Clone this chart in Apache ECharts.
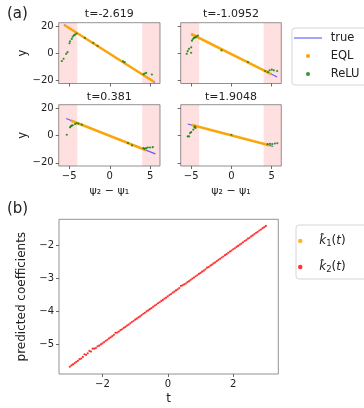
<!DOCTYPE html>
<html>
<head>
<meta charset="utf-8">
<script src="https://cdn.jsdelivr.net/npm/echarts@6/dist/echarts.min.js"></script>
<style>
html, body { margin: 0; padding: 0; background: #fff; }
#main { width: 364px; height: 408px; }
</style>
</head>
<body>
<div id="main"></div>
<script>
// ---- data ----
var panelTitles = ['t=-2.619', 't=-1.0952', 't=0.381', 't=1.9048'];
var psiRange = [-6.3, 6.2];
var yRange = [-22.3, 22.4];
var psiTicks = [-5, 0, 5];
var yTicks = [-20, 0, 20];
var trainEdge = 4;

// true curve (end points)
var trueLines = [
  [[-5.66, 20.9], [5.56, -21.5]],
  [[-5.0, 14.1], [5.68, -17.5]],
  [[-5.38, 12.3], [5.63, -13.5]],
  [[-5.43, 8.3], [5.2, -8.1]]
];
// EQL prediction (dense dots, drawn as a thick stroke)
var eqlLines = [
  [[-5.6, 20.7], [5.5, -21.2]],
  [[-5.0, 14.1], [4.9, -15.2]],
  [[-4.8, 10.9], [4.5, -10.8]],
  [[-4.9, 7.6], [4.7, -7.1]]
];
// ReLU prediction
var reluPts = [
  [[-5.91, -5.8], [-5.7, -4.1], [-5.38, -0.5], [-5.21, 0.7], [-4.97, 7.3], [-4.9, 8.7], [-4.69, 10.5], [-4.57, 12.1], [-4.41, 13.1], [-4.3, 13.6], [-4.1, 14.4], [-3.06, 11.3], [-2.04, 7.6], [-1.5, 5.4], [1.63, -6.1], [1.84, -6.6], [4.17, -15.5], [4.29, -15.0], [4.49, -14.5], [5.2, -15.7]],
  [[-5.55, -0.5], [-5.43, 1.5], [-5.27, 3.2], [-5.0, 0.3], [-5.0, 4.3], [-4.9, 9.2], [-4.78, 10.4], [-4.65, 11.2], [-4.49, 11.6], [-4.37, 12.1], [-4.16, 12.9], [-1.23, 2.0], [2.06, -6.5], [4.2, -13.1], [4.53, -14.0], [4.74, -12.6], [5.02, -12.1], [5.27, -12.6], [5.68, -13.1]],
  [[-5.3, 0.5], [-4.9, 5.9], [-4.8, 6.6], [-4.69, 7.1], [-4.57, 7.4], [-4.28, 8.3], [-4.08, 8.8], [-3.87, 8.6], [-3.46, 7.8], [2.25, -5.6], [2.74, -7.3], [4.16, -9.3], [4.29, -9.8], [4.49, -9.3], [4.7, -8.8], [4.98, -8.8], [5.31, -8.6]],
  [[-5.43, -0.7], [-5.26, -0.7], [-5.14, 1.7], [-5.0, 2.4], [-4.73, 4.2], [-4.6, 5.9], [-4.53, 6.6], [-4.44, 5.4], [0, 0.5], [4.5, -6.4], [4.8, -6.1], [5.08, -6.4], [5.4, -5.9], [5.7, -5.7]]
];

// panel (b)
var tRange = [-3.33, 3.38];
var coefRange = [-5.9, -1.2];
var tTicks = [-2, 0, 2];
var coefTicks = [-5, -4, -3, -2];
var tVals = [-3.00, -2.95, -2.90, -2.85, -2.80, -2.75, -2.70, -2.65, -2.60, -2.55, -2.50, -2.45, -2.40, -2.35, -2.30, -2.25, -2.20, -2.15, -2.10, -2.05,
  -2.00, -1.95, -1.90, -1.85, -1.80, -1.75, -1.70, -1.65, -1.60, -1.55, -1.50, -1.45, -1.40, -1.35, -1.30, -1.25, -1.20, -1.15, -1.10, -1.05,
  -1.00, -0.95, -0.90, -0.85, -0.80, -0.75, -0.70, -0.65, -0.60, -0.55, -0.50, -0.45, -0.40, -0.35, -0.30, -0.25, -0.20, -0.15, -0.10, -0.05,
  0.00, 0.05, 0.10, 0.15, 0.20, 0.25, 0.30, 0.35, 0.40, 0.45, 0.50, 0.55, 0.60, 0.65, 0.70, 0.75, 0.80, 0.85, 0.90, 0.95,
  1.00, 1.05, 1.10, 1.15, 1.20, 1.25, 1.30, 1.35, 1.40, 1.45, 1.50, 1.55, 1.60, 1.65, 1.70, 1.75, 1.80, 1.85, 1.90, 1.95,
  2.00, 2.05, 2.10, 2.15, 2.20, 2.25, 2.30, 2.35, 2.40, 2.45, 2.50, 2.55, 2.60, 2.65, 2.70, 2.75, 2.80, 2.85, 2.90, 2.95, 3.00];
var k2Vals = [-5.68, -5.64, -5.61, -5.57, -5.53, -5.50, -5.45, -5.43, -5.38, -5.30, -5.32, -5.27, -5.20, -5.22, -5.13, -5.13, -5.11, -5.06, -5.04, -5.00,
  -4.97, -4.93, -4.89, -4.86, -4.82, -4.79, -4.75, -4.71, -4.65, -4.64, -4.61, -4.57, -4.54, -4.50, -4.47, -4.43, -4.40, -4.36, -4.32, -4.29,
  -4.25, -4.22, -4.18, -4.15, -4.11, -4.07, -4.04, -4.00, -3.97, -3.93, -3.90, -3.86, -3.82, -3.79, -3.75, -3.72, -3.68, -3.65, -3.61, -3.58,
  -3.54, -3.50, -3.47, -3.43, -3.40, -3.36, -3.33, -3.29, -3.22, -3.21, -3.18, -3.15, -3.11, -3.08, -3.04, -3.00, -2.97, -2.93, -2.90, -2.86,
  -2.83, -2.79, -2.76, -2.72, -2.67, -2.65, -2.61, -2.58, -2.54, -2.51, -2.47, -2.43, -2.40, -2.36, -2.33, -2.29, -2.26, -2.22, -2.18, -2.15,
  -2.11, -2.08, -2.04, -2.01, -1.97, -1.94, -1.90, -1.86, -1.83, -1.79, -1.76, -1.72, -1.69, -1.65, -1.61, -1.58, -1.54, -1.51, -1.47, -1.44, -1.40];
var k1Vals = [];

// ---- chart ----
var chart = echarts.init(document.getElementById('main'));
var FONT = 'DejaVu Sans';
var TXT = '#222';
var minusFmt = function (v) { return v < 0 ? '\u2212' + Math.abs(v) : String(v); };

var gridPos = [
  { left: 58.7, top: 22.7, width: 101.3, height: 60.8 },
  { left: 180.7, top: 22.7, width: 100.6, height: 60.8 },
  { left: 58.7, top: 104.7, width: 101.3, height: 61.3 },
  { left: 180.7, top: 104.7, width: 100.6, height: 61.3 },
  { left: 59, top: 219.3, width: 219.3, height: 154.7 }
];
var titleY = [14, 14, 97, 97];

var grids = [], xAxes = [], yAxes = [], series = [], graphics = [];

function axisCommon(ticks, showLabel) {
  return {
    axisLine: { show: false, onZero: false },
    splitLine: { show: false },
    axisTick: { show: true, length: 3, lineStyle: { color: '#444', width: 0.8 }, customValues: ticks },
    axisLabel: { show: showLabel, customValues: ticks, formatter: minusFmt, color: TXT, fontSize: 10, fontFamily: FONT, margin: 5 }
  };
}

for (var i = 0; i < 4; i++) {
  var bottomRow = i >= 2, leftCol = i % 2 === 0;
  grids.push(Object.assign({ show: true, borderColor: '#777', borderWidth: 0.8 }, gridPos[i]));
  xAxes.push(Object.assign({
    gridIndex: i, type: 'value', min: psiRange[0], max: psiRange[1], position: 'bottom',
    name: bottomRow ? 'ψ₂ − ψ₁' : '', nameLocation: 'middle', nameGap: 20,
    nameTextStyle: { color: TXT, fontSize: 11, fontFamily: FONT }
  }, axisCommon(psiTicks, bottomRow)));
  yAxes.push(Object.assign({
    gridIndex: i, type: 'value', min: yRange[0], max: yRange[1], position: 'left',
    name: leftCol ? 'y' : '', nameLocation: 'middle', nameGap: 27,
    nameTextStyle: { color: TXT, fontSize: 11.5, fontFamily: FONT }
  }, axisCommon(yTicks, leftCol)));

  series.push({
    name: 'true', type: 'line', xAxisIndex: i, yAxisIndex: i, data: trueLines[i],
    symbol: 'none', lineStyle: { color: 'rgba(0,0,255,0.6)', width: 1.2 }, itemStyle: { color: 'rgba(0,0,255,0.6)' },
    z: 2, silent: true,
    markArea: {
      silent: true, itemStyle: { color: 'rgba(255,0,0,0.12)' },
      data: [
        [{ xAxis: psiRange[0] }, { xAxis: -trainEdge }],
        [{ xAxis: trainEdge }, { xAxis: psiRange[1] }]
      ]
    }
  });
  series.push({
    name: 'EQL', type: 'line', xAxisIndex: i, yAxisIndex: i, data: eqlLines[i],
    symbol: 'none', lineStyle: { color: 'rgba(255,165,0,0.95)', width: 2.6 }, itemStyle: { color: 'orange' },
    z: 3, silent: true
  });
  series.push({
    name: 'ReLU', type: 'scatter', xAxisIndex: i, yAxisIndex: i, data: reluPts[i],
    symbolSize: 2.2, itemStyle: { color: 'green' }, z: 4, silent: true
  });

  graphics.push({
    type: 'text', x: gridPos[i].left + gridPos[i].width / 2, y: titleY[i],
    style: { text: panelTitles[i], fontSize: 11, fontFamily: FONT, fill: TXT, align: 'center', verticalAlign: 'middle' }
  });
}

// panel (b)
grids.push(Object.assign({ show: true, borderColor: '#777', borderWidth: 0.8 }, gridPos[4]));
xAxes.push(Object.assign({
  gridIndex: 4, type: 'value', min: tRange[0], max: tRange[1], position: 'bottom',
  name: 't', nameLocation: 'middle', nameGap: 19,
  nameTextStyle: { color: TXT, fontSize: 12, fontFamily: FONT }
}, axisCommon(tTicks, true)));
yAxes.push(Object.assign({
  gridIndex: 4, type: 'value', min: coefRange[0], max: coefRange[1], position: 'left',
  name: 'predicted coefficients', nameLocation: 'middle', nameGap: 26,
  nameTextStyle: { color: TXT, fontSize: 12, fontFamily: FONT }
}, axisCommon(coefTicks, true)));

series.push({
  name: 'k1', type: 'scatter', xAxisIndex: 4, yAxisIndex: 4,
  data: k1Vals, symbolSize: 2.4, itemStyle: { color: 'orange' }, silent: true
});
series.push({
  name: 'k2', type: 'scatter', xAxisIndex: 4, yAxisIndex: 4,
  data: tVals.map(function (t, j) { return [t, k2Vals[j]]; }),
  symbolSize: 2.2, itemStyle: { color: 'red' }, silent: true
});

graphics.push({ type: 'text', x: 7, y: 14, style: { text: '(a)', fontSize: 15, fontFamily: FONT, fill: TXT, verticalAlign: 'middle' } });
graphics.push({ type: 'text', x: 7, y: 209, style: { text: '(b)', fontSize: 15, fontFamily: FONT, fill: TXT, verticalAlign: 'middle' } });

var kRich = {
  k: { fontStyle: 'italic', fontSize: 12, fontFamily: FONT, color: TXT },
  s: { fontSize: 8.5, fontFamily: FONT, color: TXT, padding: [5, 0, 0, 0] },
  p: { fontSize: 12, fontFamily: FONT, color: TXT }
};

var option = {
  animation: false,
  backgroundColor: '#fff',
  grid: grids,
  xAxis: xAxes,
  yAxis: yAxes,
  series: series,
  graphic: graphics,
  legend: [
    {
      data: [
        { name: 'true', icon: 'path://M0,0 L28,0 L28,1.2 L0,1.2 Z' },
        { name: 'EQL', icon: 'circle' },
        { name: 'ReLU', icon: 'circle' }
      ],
      orient: 'vertical', left: 292, top: 28,
      itemWidth: 28, itemHeight: 4, itemGap: 6,
      padding: [4, 30, 5, 2],
      borderColor: '#ccc', borderWidth: 0.8, borderRadius: 3,
      formatter: function (n) { return ' ' + n; },
      textStyle: { color: TXT, fontSize: 11.5, fontFamily: FONT },
      selectedMode: false
    },
    {
      data: [{ name: 'k1', icon: 'circle' }, { name: 'k2', icon: 'circle' }],
      orient: 'vertical', left: 296, top: 225,
      itemWidth: 28, itemHeight: 4.5, itemGap: 13,
      padding: [10, 30, 5, 2],
      borderColor: '#ccc', borderWidth: 0.8, borderRadius: 3,
      formatter: function (n) {
        return '{k|k\u0302}{s|' + n.slice(1) + '}{p|(}{k|t}{p|)}';
      },
      textStyle: { color: TXT, fontSize: 12, fontFamily: FONT, rich: kRich },
      selectedMode: false
    }
  ]
};
chart.setOption(option);
</script>
</body>
</html>
